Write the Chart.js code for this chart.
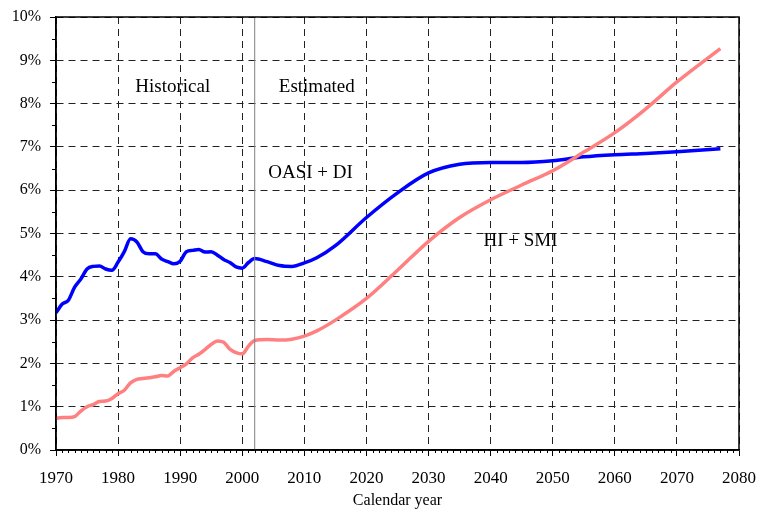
<!DOCTYPE html>
<html>
<head>
<meta charset="utf-8">
<script src="https://cdn.jsdelivr.net/npm/chart.js@4"></script>
<style>
    html, body { margin: 0; padding: 0; background: #fff; }
    #wrap { width: 758px; height: 510px; }
</style>
</head>
<body>
<div id="wrap"><canvas id="myChart" width="758" height="510"></canvas></div>
<script>
// Calendar years (historical yearly, projections coarser)
const years = [
    1970, 1971, 1972, 1973, 1974, 1975, 1976, 1977, 1978, 1979,
    1980, 1981, 1982, 1983, 1984, 1985, 1986, 1987, 1988, 1989,
    1990, 1991, 1992, 1993, 1994, 1995, 1996, 1997, 1998, 1999,
    2000, 2001, 2002, 2004, 2006, 2008, 2010, 2012, 2015, 2020,
    2025, 2030, 2035, 2040, 2045, 2050, 2055, 2060, 2065, 2070, 2077
];
// OASI + DI cost as % of GDP
const oasiDi = [
    3.17, 3.37, 3.46, 3.76, 3.95, 4.18, 4.24, 4.25, 4.18, 4.15,
    4.34, 4.58, 4.88, 4.81, 4.58, 4.53, 4.53, 4.41, 4.35, 4.30,
    4.36, 4.58, 4.61, 4.63, 4.57, 4.58, 4.50, 4.40, 4.33, 4.23,
    4.20, 4.33, 4.42, 4.35, 4.26, 4.24, 4.32, 4.44, 4.72, 5.37,
    5.94, 6.40, 6.60, 6.64, 6.64, 6.68, 6.77, 6.82, 6.85, 6.89, 6.96
];
// HI + SMI cost as % of GDP
const hiSmi = [
    0.73, 0.75, 0.75, 0.77, 0.90, 1.00, 1.05, 1.12, 1.13, 1.19,
    1.30, 1.38, 1.55, 1.63, 1.65, 1.67, 1.69, 1.72, 1.71, 1.82,
    1.90, 1.99, 2.13, 2.21, 2.32, 2.44, 2.52, 2.49, 2.33, 2.25,
    2.22, 2.40, 2.53, 2.55, 2.54, 2.56, 2.63, 2.75, 3.00, 3.50,
    4.15, 4.82, 5.37, 5.78, 6.12, 6.45, 6.88, 7.33, 7.88, 8.50, 9.27
];
const divideYear = 2002;
const yearTicks = [1970, 1980, 1990, 2000, 2010, 2020, 2030, 2040, 2050, 2060, 2070, 2080];
const pctTicks = [0, 1, 2, 3, 4, 5, 6, 7, 8, 9, 10];

// text labels placed at (year, percent)
const labelText = ['Historical', 'Estimated', 'OASI + DI', 'HI + SMI'];
const labelYear = [1988.8, 2012, 2011, 2044.8];
const labelPct = [8.38, 8.38, 6.4, 4.83];

const serif = '"Liberation Serif", "Times New Roman", serif';

const boxPlugin = {
    id: 'boxAndText',
    afterDraw(chart) {
        const ctx = chart.ctx;
        const area = chart.chartArea;
        const xs = chart.scales.x;
        const ys = chart.scales.y;
        ctx.save();
        // minor ticks
        ctx.strokeStyle = '#000';
        ctx.lineWidth = 1;
        ctx.beginPath();
        for (let v = 0.5; v < 10; v += 1) {
            const py = Math.round(ys.getPixelForValue(v)) + 0.5;
            ctx.moveTo(area.left - 4, py);
            ctx.lineTo(area.left, py);
        }
        for (let yr = 1971; yr < 2080; yr++) {
            if (yr % 10 === 0) continue;
            const px = Math.round(xs.getPixelForValue(yr)) + 0.5;
            ctx.moveTo(px, area.bottom);
            ctx.lineTo(px, area.bottom + 3);
        }
        ctx.stroke();
        // plot frame
        ctx.lineWidth = 1.5;
        ctx.strokeRect(area.left, area.top, area.right - area.left, area.bottom - area.top);
        // labels
        ctx.fillStyle = '#000';
        ctx.font = '19px ' + serif;
        ctx.textAlign = 'center';
        ctx.textBaseline = 'middle';
        for (let i = 0; i < labelText.length; i++) {
            ctx.fillText(labelText[i], xs.getPixelForValue(labelYear[i]), ys.getPixelForValue(labelPct[i]));
        }
        ctx.restore();
    }
};

const ctx = document.getElementById('myChart');
const myChart = new Chart(ctx, {
    type: 'line',
    data: {
        datasets: [
            {
                label: 'divider',
                data: [{ x: divideYear, y: 0 }, { x: divideYear, y: 10 }],
                borderColor: '#808080',
                borderWidth: 1,
                pointRadius: 0
            },
            {
                label: 'HI + SMI',
                data: years.map((yr, i) => ({ x: yr, y: hiSmi[i] })),
                borderColor: '#ff8080',
                borderWidth: 3.5,
                pointRadius: 0,
                cubicInterpolationMode: 'monotone'
            },
            {
                label: 'OASI + DI',
                data: years.map((yr, i) => ({ x: yr, y: oasiDi[i] })),
                borderColor: '#0000ff',
                borderWidth: 3.5,
                pointRadius: 0,
                cubicInterpolationMode: 'monotone'
            }
        ]
    },
    options: {
        responsive: false,
        animation: false,
        layout: { padding: { top: 17, right: 19, left: 0, bottom: 0 } },
        plugins: {
            legend: { display: false },
            tooltip: { enabled: false }
        },
        scales: {
            x: {
                type: 'linear',
                min: 1970,
                max: 2080,
                afterBuildTicks: (scale) => { scale.ticks = yearTicks.map(v => ({ value: v })); },
                afterFit: (scale) => {
                    scale.height = 60;
                    scale.paddingLeft = 0;
                    scale.paddingRight = 0;
                },
                ticks: {
                    color: '#000',
                    font: { family: serif, size: 17 },
                    padding: 12,
                    maxRotation: 0,
                    callback: (v) => String(v)
                },
                grid: {
                    color: '#222',
                    tickColor: '#000',
                    tickLength: 6
                },
                border: { color: '#000', width: 1.5, dash: [7, 5] },
                title: {
                    display: true,
                    text: 'Calendar year',
                    color: '#000',
                    font: { family: serif, size: 16 },
                    padding: { top: 0, bottom: 0 }
                }
            },
            y: {
                type: 'linear',
                min: 0,
                max: 10,
                afterBuildTicks: (scale) => { scale.ticks = pctTicks.map(v => ({ value: v })); },
                afterFit: (scale) => {
                    scale.width = 56;
                    scale.paddingTop = 0;
                    scale.paddingBottom = 0;
                },
                ticks: {
                    color: '#000',
                    font: { family: serif, size: 16 },
                    padding: 9,
                    callback: (v) => v + '%'
                },
                grid: {
                    color: '#222',
                    tickColor: '#000',
                    tickLength: 6
                },
                border: { color: '#000', width: 1.5, dash: [7, 5] }
            }
        }
    },
    plugins: [boxPlugin]
});
</script>
</body>
</html>
